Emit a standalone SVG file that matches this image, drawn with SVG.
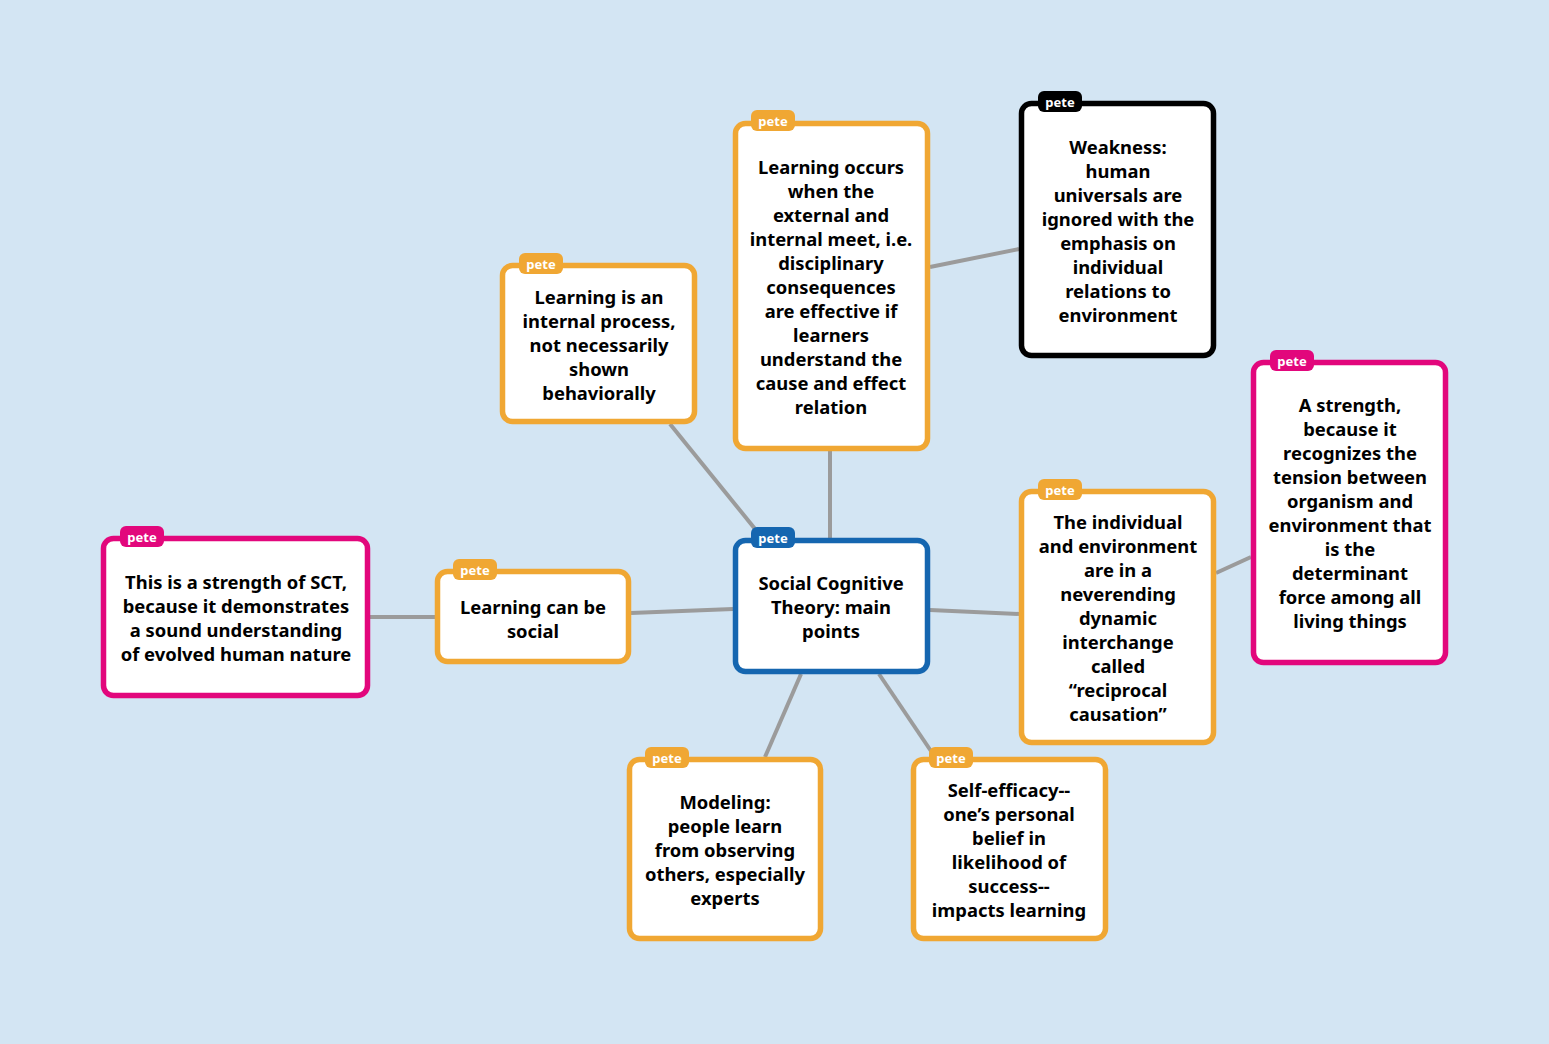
<svg xmlns="http://www.w3.org/2000/svg" width="1549" height="1044" viewBox="0 0 1549 1044">
<style>
.box{fill:#fff;stroke-width:5.5}
.o{stroke:#f0a733}.p{stroke:#e2077c}.b{stroke:#1566b0}.k{stroke:#000}
.to{fill:#f0a733}.tp{fill:#e2077c}.tb{fill:#1566b0}.tk{fill:#000}
.tag{font-family:"Noto Sans","Liberation Sans",sans-serif;font-weight:700;font-size:13px;fill:#fff;text-anchor:middle}
.t{font-family:"Noto Sans","Liberation Sans",sans-serif;font-weight:700;font-size:18.4px;fill:#000;text-anchor:middle}
.c line{stroke:#9b9b9b;stroke-width:4}
</style>
<rect width="1549" height="1044" fill="#d3e5f3"/>
<g class="c" id="connectors">
<line x1="830" y1="451" x2="830" y2="538"/>
<line x1="670" y1="424" x2="764" y2="540"/>
<line x1="930" y1="267" x2="1019" y2="249"/>
<line x1="631" y1="613" x2="733" y2="609"/>
<line x1="370" y1="617" x2="435" y2="617"/>
<line x1="930" y1="610" x2="1019" y2="614"/>
<line x1="1216" y1="573" x2="1251" y2="557"/>
<line x1="801" y1="674" x2="765" y2="757"/>
<line x1="879" y1="674" x2="935" y2="757"/>
</g>
<g id="n-center">
<rect class="box b" x="735.5" y="540.5" width="192" height="131" rx="10"/>
<rect class="tb" x="751" y="527" width="44" height="21" rx="6"/>
<text class="tag" x="773" y="543">pete</text>
<text class="t" x="831"><tspan x="831" y="590">Social Cognitive</tspan><tspan x="831" y="614">Theory: main</tspan><tspan x="831" y="638">points</tspan></text>
</g>
<g id="n-internal">
<rect class="box o" x="502.5" y="265.5" width="192" height="156" rx="10"/>
<rect class="to" x="519" y="253" width="44" height="21" rx="6"/>
<text class="tag" x="541" y="269">pete</text>
<text class="t"><tspan x="599" y="304">Learning is an</tspan><tspan x="599" y="328">internal process,</tspan><tspan x="599" y="352">not necessarily</tspan><tspan x="599" y="376">shown</tspan><tspan x="599" y="400">behaviorally</tspan></text>
</g>
<g id="n-occurs">
<rect class="box o" x="735.5" y="123.5" width="192" height="325" rx="10"/>
<rect class="to" x="751" y="110" width="44" height="21" rx="6"/>
<text class="tag" x="773" y="126">pete</text>
<text class="t"><tspan x="831" y="174">Learning occurs</tspan><tspan x="831" y="198">when the</tspan><tspan x="831" y="222">external and</tspan><tspan x="831" y="246">internal meet, i.e.</tspan><tspan x="831" y="270">disciplinary</tspan><tspan x="831" y="294">consequences</tspan><tspan x="831" y="318">are effective if</tspan><tspan x="831" y="342">learners</tspan><tspan x="831" y="366">understand the</tspan><tspan x="831" y="390">cause and effect</tspan><tspan x="831" y="414">relation</tspan></text>
</g>
<g id="n-weakness">
<rect class="box k" x="1021.5" y="103.5" width="192" height="252" rx="10"/>
<rect class="tk" x="1038" y="91" width="44" height="21" rx="6"/>
<text class="tag" x="1060" y="107">pete</text>
<text class="t"><tspan x="1118" y="154">Weakness:</tspan><tspan x="1118" y="178">human</tspan><tspan x="1118" y="202">universals are</tspan><tspan x="1118" y="226">ignored with the</tspan><tspan x="1118" y="250">emphasis on</tspan><tspan x="1118" y="274">individual</tspan><tspan x="1118" y="298">relations to</tspan><tspan x="1118" y="322">environment</tspan></text>
</g>
<g id="n-strength-right">
<rect class="box p" x="1253.5" y="362.5" width="192" height="300" rx="10"/>
<rect class="tp" x="1270" y="350" width="44" height="21" rx="6"/>
<text class="tag" x="1292" y="366">pete</text>
<text class="t"><tspan x="1350" y="412">A strength,</tspan><tspan x="1350" y="436">because it</tspan><tspan x="1350" y="460">recognizes the</tspan><tspan x="1350" y="484">tension between</tspan><tspan x="1350" y="508">organism and</tspan><tspan x="1350" y="532">environment that</tspan><tspan x="1350" y="556">is the</tspan><tspan x="1350" y="580">determinant</tspan><tspan x="1350" y="604">force among all</tspan><tspan x="1350" y="628">living things</tspan></text>
</g>
<g id="n-individual">
<rect class="box o" x="1021.5" y="491.5" width="192" height="251" rx="10"/>
<rect class="to" x="1038" y="479" width="44" height="21" rx="6"/>
<text class="tag" x="1060" y="495">pete</text>
<text class="t"><tspan x="1118" y="529">The individual</tspan><tspan x="1118" y="553">and environment</tspan><tspan x="1118" y="577">are in a</tspan><tspan x="1118" y="601">neverending</tspan><tspan x="1118" y="625">dynamic</tspan><tspan x="1118" y="649">interchange</tspan><tspan x="1118" y="673">called</tspan><tspan x="1118" y="697">“reciprocal</tspan><tspan x="1118" y="721">causation”</tspan></text>
</g>
<g id="n-selfefficacy">
<rect class="box o" x="913.5" y="759.5" width="192" height="179" rx="10"/>
<rect class="to" x="929" y="747" width="44" height="21" rx="6"/>
<text class="tag" x="951" y="763">pete</text>
<text class="t"><tspan x="1009" y="797">Self-efficacy--</tspan><tspan x="1009" y="821">one’s personal</tspan><tspan x="1009" y="845">belief in</tspan><tspan x="1009" y="869">likelihood of</tspan><tspan x="1009" y="893">success--</tspan><tspan x="1009" y="917">impacts learning</tspan></text>
</g>
<g id="n-modeling">
<rect class="box o" x="629.5" y="759.5" width="191" height="179" rx="10"/>
<rect class="to" x="645" y="747" width="44" height="21" rx="6"/>
<text class="tag" x="667" y="763">pete</text>
<text class="t"><tspan x="725" y="809">Modeling:</tspan><tspan x="725" y="833">people learn</tspan><tspan x="725" y="857">from observing</tspan><tspan x="725" y="881">others, especially</tspan><tspan x="725" y="905">experts</tspan></text>
</g>
<g id="n-social">
<rect class="box o" x="437.5" y="571.5" width="191" height="90" rx="10"/>
<rect class="to" x="453" y="559" width="44" height="21" rx="6"/>
<text class="tag" x="475" y="575">pete</text>
<text class="t"><tspan x="533" y="614">Learning can be</tspan><tspan x="533" y="638">social</tspan></text>
</g>
<g id="n-strength-left">
<rect class="box p" x="103.5" y="538.5" width="264" height="157" rx="10"/>
<rect class="tp" x="120" y="526" width="44" height="21" rx="6"/>
<text class="tag" x="142" y="542">pete</text>
<text class="t"><tspan x="236" y="589">This is a strength of SCT,</tspan><tspan x="236" y="613">because it demonstrates</tspan><tspan x="236" y="637">a sound understanding</tspan><tspan x="236" y="661">of evolved human nature</tspan></text>
</g>
</svg>
